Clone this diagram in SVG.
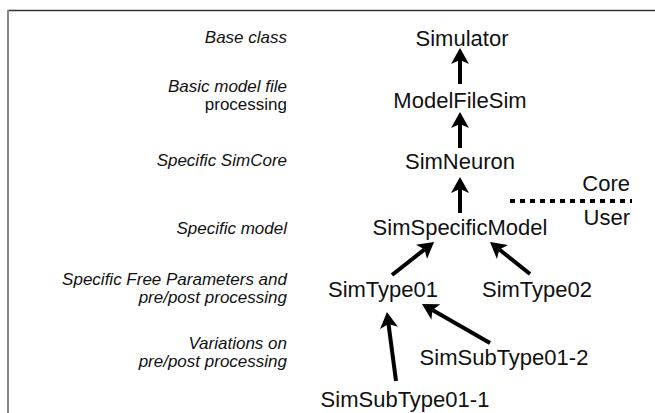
<svg xmlns="http://www.w3.org/2000/svg" width="655" height="413" viewBox="0 0 655 413">
<style>
.lbl{font-family:"Liberation Sans",Arial,sans-serif;font-size:17px;font-style:italic;fill:#111;text-anchor:end}
.node{font-family:"Liberation Sans",Arial,sans-serif;font-size:22px;fill:#111;text-anchor:middle}
.side{font-family:"Liberation Sans",Arial,sans-serif;font-size:22px;fill:#111;text-anchor:end}
.arr{stroke:#000;stroke-width:4;fill:none;marker-end:url(#ah)}
</style>
<defs>
<marker id="ah" markerUnits="userSpaceOnUse" markerWidth="16" markerHeight="18" viewBox="0 0 16 18" refX="4" refY="9" orient="auto">
<path d="M0,0 L16,9 L0,18 L4,9 Z" fill="#000"/>
</marker>
</defs>
<rect width="655" height="413" fill="#fff"/>
<g id="frame">
<line x1="8" y1="10.5" x2="655" y2="10.5" stroke="#333" stroke-width="1.5"/>
<line x1="8" y1="10" x2="8" y2="413" stroke="#888" stroke-width="2"/>
</g>
<g id="labels">
<text class="lbl" x="287" y="43">Base class</text>
<text class="lbl" x="287" y="92">Basic model file</text>
<text class="lbl" x="287" y="110" style="font-style:normal">processing</text>
<text class="lbl" x="287" y="166">Specific SimCore</text>
<text class="lbl" x="287" y="234">Specific model</text>
<text class="lbl" x="287" y="285">Specific Free Parameters and</text>
<text class="lbl" x="287" y="303">pre/post processing</text>
<text class="lbl" x="287" y="349">Variations on</text>
<text class="lbl" x="287" y="367">pre/post processing</text>
</g>
<g id="Simulator"><text class="node" x="462" y="46">Simulator</text></g>
<g id="ModelFileSim"><text class="node" x="460" y="108">ModelFileSim</text></g>
<g id="SimNeuron"><text class="node" x="460" y="169">SimNeuron</text></g>
<g id="SimSpecificModel"><text class="node" x="460" y="235">SimSpecificModel</text></g>
<g id="SimType01"><text class="node" x="383" y="297">SimType01</text></g>
<g id="SimType02"><text class="node" x="537" y="297">SimType02</text></g>
<g id="SimSubType01-2"><text class="node" x="504" y="365">SimSubType01-2</text></g>
<g id="SimSubType01-1"><text class="node" x="405" y="407">SimSubType01-1</text></g>
<g id="divider">
<line x1="510" y1="201" x2="632" y2="201" stroke="#000" stroke-width="4" stroke-dasharray="5 5"/>
<text class="side" x="630" y="191">Core</text>
<text class="side" x="630" y="225">User</text>
</g>
<g id="connectors">
<line class="arr" x1="460" y1="84" x2="460" y2="60"/>
<line class="arr" x1="460" y1="148" x2="460" y2="124"/>
<line class="arr" x1="460" y1="213" x2="460" y2="189"/>
<line class="arr" x1="392" y1="275" x2="424.6" y2="249.4"/>
<line class="arr" x1="530" y1="274" x2="499.4" y2="249.5"/>
<line class="arr" x1="396" y1="381" x2="388.5" y2="323.9"/>
<line class="arr" x1="490" y1="343" x2="432.4" y2="310"/>
</g>
</svg>
